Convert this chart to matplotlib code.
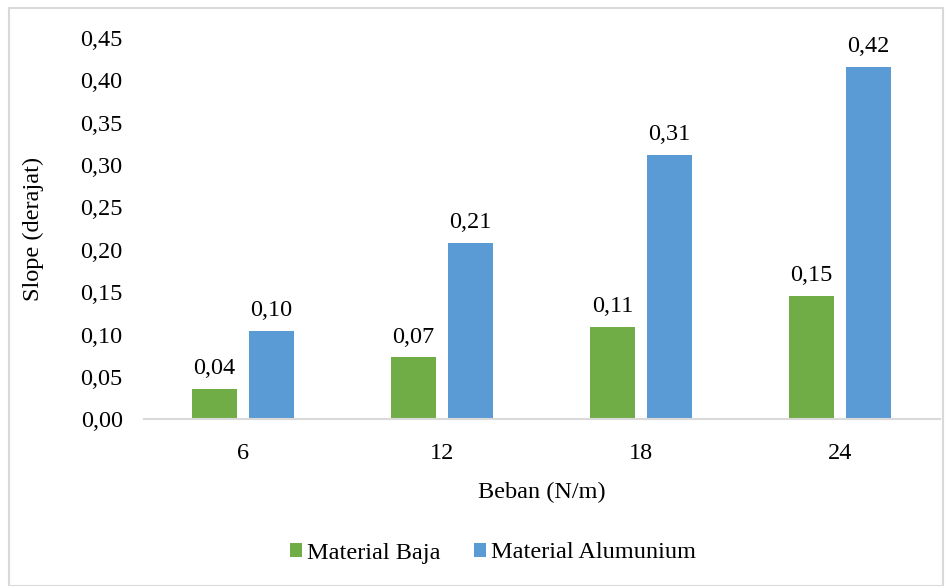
import matplotlib
matplotlib.use("Agg")
import matplotlib.pyplot as plt
import numpy as np
from matplotlib.patches import Rectangle

beban = ["6", "12", "18", "24"]
slope_baja = [0.036, 0.073, 0.109, 0.146]
slope_alumunium = [0.104, 0.208, 0.312, 0.416]
series_names = ["Material Baja", "Material Alumunium"]
yticks = [0.00, 0.05, 0.10, 0.15, 0.20, 0.25, 0.30, 0.35, 0.40, 0.45]

GREEN = "#70ad47"
BLUE = "#5b9bd5"
FS = 17.5

plt.rcParams["font.family"] = ["Liberation Serif", "DejaVu Serif"]
plt.rcParams["text.color"] = "#000000"

W, H = 952, 586
fig = plt.figure(figsize=(W / 100, H / 100), dpi=100)
ax = fig.add_axes([143.5 / W, 1 - 419.3 / H, 796 / W, 381.3 / H])

x = np.arange(len(beban))
bw = 0.226
off = 0.143
b1 = ax.bar(x - off, slope_baja, bw, color=GREEN, label=series_names[0])
b2 = ax.bar(x + off, slope_alumunium, bw, color=BLUE, label=series_names[1])

for bars in (b1, b2):
    for r in bars:
        v = r.get_height()
        ax.annotate(f"{v:.2f}".replace(".", ","), (r.get_x() + r.get_width() / 2, v),
                    xytext=(0, 7), textcoords="offset points",
                    ha="center", va="bottom", fontsize=FS)

ax.set_xlim(-0.5, len(beban) - 0.5)
ax.set_ylim(0, 0.45)
ax.set_xticks(x, beban)
ax.set_yticks(yticks, [f"{t:.2f}".replace(".", ",") for t in yticks])
ax.tick_params(axis="both", length=0, labelsize=FS)
ax.tick_params(axis="y", pad=15)
ax.tick_params(axis="x", pad=17)
for s in ("top", "right", "left"):
    ax.spines[s].set_visible(False)
ax.spines["bottom"].set_color("#d9d9d9")
ax.spines["bottom"].set_linewidth(1.5)

ax.set_xlabel("Beban (N/m)", fontsize=FS, labelpad=13)
ax.set_ylabel("Slope (derajat)", fontsize=FS, labelpad=26)

fig.legend(handles=[b1, b2], labels=series_names, loc="center",
           bbox_to_anchor=(493 / W, 1 - 553 / H), ncol=2, frameon=False,
           fontsize=FS, handlelength=0.5, handleheight=0.5,
           handletextpad=0.2, columnspacing=1.4)

fig.add_artist(Rectangle((9 / W, 0.5 / H), (W - 9.5) / W - 9 / W, 1 - 8 / H - 0.5 / H,
                         transform=fig.transFigure, fill=False,
                         edgecolor="#d9d9d9", linewidth=1.5))

fig.savefig("out.png", dpi=100)
